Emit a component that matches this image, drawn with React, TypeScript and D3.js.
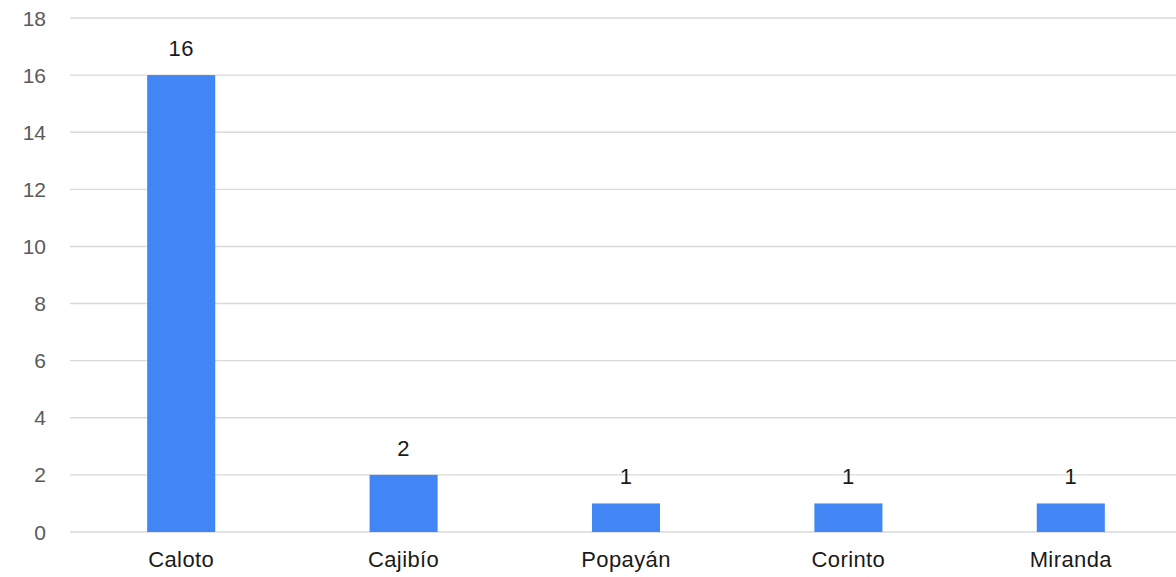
import React from "react";
import * as d3 from "d3";

const categories = ["Caloto", "Cajibío", "Popayán", "Corinto", "Miranda"];
const values = [16, 2, 1, 1, 1];
const yTicks = [0, 2, 4, 6, 8, 10, 12, 14, 16, 18];

const W = 1176;
const H = 577;

export default function App() {
  const x = d3
    .scaleBand<string>()
    .domain(categories)
    .range([70, 1182])
    .paddingInner(0.694)
    .paddingOuter(0.347);
  const y = d3.scaleLinear().domain([0, 18]).range([532, 18]);
  const font = "'Liberation Sans', Arial, sans-serif";

  return (
    <svg
      width={W}
      height={H}
      style={{ position: "absolute", left: 0, top: 0, background: "#fff" }}
      fontFamily={font}
    >
      {yTicks.map((t) => (
        <g key={t}>
          <line x1={70} x2={W} y1={y(t)} y2={y(t)} stroke="#d9d9d9" strokeWidth={1.4} />
          <text x={46} y={y(t)} dy="0.36em" textAnchor="end" fontSize={21} fill="#5a5a5a">
            {t}
          </text>
        </g>
      ))}
      {categories.map((c, i) => (
        <g key={c}>
          <rect
            x={x(c)}
            y={y(values[i])}
            width={x.bandwidth()}
            height={y(0) - y(values[i])}
            fill="#4285f4"
          />
          <text
            x={(x(c) as number) + x.bandwidth() / 2}
            y={y(values[i]) - 19}
            textAnchor="middle"
            fontSize={22}
            letterSpacing={0.4}
            fill="#1a1a1a"
          >
            {values[i]}
          </text>
          <text
            x={(x(c) as number) + x.bandwidth() / 2}
            y={567}
            textAnchor="middle"
            fontSize={22}
            letterSpacing={0.4}
            fill="#1a1a1a"
          >
            {c}
          </text>
        </g>
      ))}
    </svg>
  );
}
